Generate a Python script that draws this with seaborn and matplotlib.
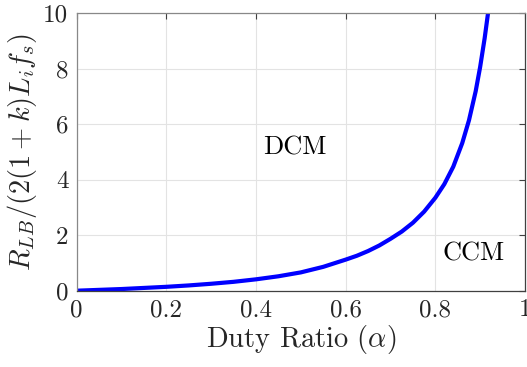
import matplotlib
matplotlib.use("Agg")
import matplotlib.pyplot as plt
import seaborn as sns
import pandas as pd

# Boundary between DCM and CCM: normalized critical load resistance vs duty ratio
duty_ratio = [0.0, 0.05, 0.10, 0.15, 0.20, 0.25, 0.30, 0.35, 0.40, 0.45,
              0.50, 0.55, 0.60, 0.625, 0.65, 0.675, 0.70, 0.725, 0.75,
              0.775, 0.80, 0.82, 0.84, 0.86, 0.875, 0.89, 0.90, 0.91, 0.9175]
r_lb_norm = [0.0, 0.03, 0.06, 0.10, 0.14, 0.19, 0.25, 0.32, 0.41, 0.52,
             0.66, 0.86, 1.12, 1.26, 1.43, 1.63, 1.87, 2.13, 2.45,
             2.85, 3.35, 3.84, 4.47, 5.32, 6.14, 7.19, 8.07, 9.10, 10.0]

x_ticks = [0, 0.2, 0.4, 0.6, 0.8, 1]
x_tick_labels = ["0", "0.2", "0.4", "0.6", "0.8", "1"]
y_ticks = [0, 2, 4, 6, 8, 10]
y_tick_labels = ["0", "2", "4", "6", "8", "10"]

region_labels = ["DCM", "CCM"]
region_pos = [(0.486, 5.17), (0.885, 1.33)]

sns.set_theme(style="white")
plt.rcParams["font.family"] = ["cmr10", "DejaVu Serif"]
plt.rcParams["mathtext.fontset"] = "cm"
plt.rcParams["axes.formatter.use_mathtext"] = True

text_color = "#262626"

fig = plt.figure(figsize=(5.27, 3.67), dpi=100)
ax = fig.add_axes([0.1455, 0.2079, 0.8507, 0.7559])

df = pd.DataFrame({"alpha": duty_ratio, "r": r_lb_norm})
sns.lineplot(data=df, x="alpha", y="r", ax=ax, color="#0000ff",
             linewidth=3.0, estimator=None, sort=True)

ax.set_xlim(0, 1)
ax.set_ylim(0, 10)
ax.set_xticks(x_ticks)
ax.set_xticklabels(x_tick_labels)
ax.set_yticks(y_ticks)
ax.set_yticklabels(y_tick_labels)

ax.grid(True, color="#e3e3e3", linewidth=0.8)
ax.set_axisbelow(True)

ax.tick_params(axis="both", which="both", direction="in", length=4,
               width=0.8, colors="#404040", labelcolor=text_color,
               labelsize=18, top=True, right=True, pad=6)

for side in ["top", "left"]:
    ax.spines[side].set_color("#888888")
for side in ["bottom", "right"]:
    ax.spines[side].set_color("#404040")
for s in ax.spines.values():
    s.set_linewidth(0.9)
    s.set_visible(True)

ax.set_xlabel(r"Duty Ratio $(\alpha)$", fontsize=20.5, color=text_color,
              labelpad=1)
ax.set_ylabel(r"$R_{LB}/(2(1+k)L_i f_s)$", fontsize=20.5, color=text_color,
              labelpad=3)

for lab, (px, py) in zip(region_labels, region_pos):
    ax.text(px, py, lab, fontsize=19, color="black",
            ha="center", va="center")

fig.savefig("out.png", dpi=100)
